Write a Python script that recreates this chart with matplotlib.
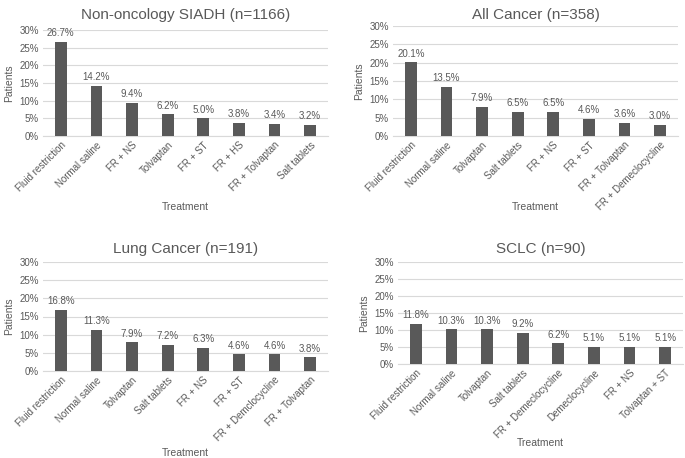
import matplotlib.pyplot as plt

plt.rcParams['font.family'] = ['Liberation Sans', 'DejaVu Sans']

TEXT = "#595959"
BAR = "#595959"
GRID = "#d9d9d9"

titles = ["Non-oncology SIADH (n=1166)", "All Cancer (n=358)",
          "Lung Cancer (n=191)", "SCLC (n=90)"]

cats_siadh = ["Fluid restriction", "Normal saline", "FR + NS", "Tolvaptan",
              "FR + ST", "FR + HS", "FR + Tolvaptan", "Salt tablets"]
vals_siadh = [26.7, 14.2, 9.4, 6.2, 5.0, 3.8, 3.4, 3.2]

cats_all = ["Fluid restriction", "Normal saline", "Tolvaptan", "Salt tablets",
            "FR + NS", "FR + ST", "FR + Tolvaptan", "FR + Demeclocycline"]
vals_all = [20.1, 13.5, 7.9, 6.5, 6.5, 4.6, 3.6, 3.0]

cats_lung = ["Fluid restriction", "Normal saline", "Tolvaptan", "Salt tablets",
             "FR + NS", "FR + ST", "FR + Demclocycline", "FR + Tolvaptan"]
vals_lung = [16.8, 11.3, 7.9, 7.2, 6.3, 4.6, 4.6, 3.8]

cats_sclc = ["Fluid restriction", "Normal saline", "Tolvaptan", "Salt tablets",
             "FR + Demeclocycline", "Demeclocycline", "FR + NS", "Tolvaptan + ST"]
vals_sclc = [11.8, 10.3, 10.3, 9.2, 6.2, 5.1, 5.1, 5.1]

W, H = 685, 458
# pixel boxes: left, right, top(30%), bottom(0%), xlabel y
boxes = [
    (43, 328, 30, 136, 207),
    (393, 678, 26, 136, 207),
    (43, 328, 262, 371, 453),
    (398, 683, 262, 364, 443),
]
title_y = [8, 8, 242, 242]
data = [(cats_siadh, vals_siadh), (cats_all, vals_all),
        (cats_lung, vals_lung), (cats_sclc, vals_sclc)]

fig = plt.figure(figsize=(W / 100, H / 100), dpi=100)

for (l, r, t, b, xl), ty, title, (cats, vals) in zip(boxes, title_y, titles, data):
    ax = fig.add_axes([l / W, 1 - b / H, (r - l) / W, (b - t) / H])
    x = range(len(cats))
    ax.bar(x, vals, width=0.33, color=BAR, zorder=3)
    for xi, v in zip(x, vals):
        ax.text(xi, v + 1.0, f"{v:.1f}%", ha="center", va="bottom",
                fontsize=7, color=TEXT)
    ax.set_xlim(-0.5, len(cats) - 0.5)
    ax.set_ylim(0, 30)
    ax.set_yticks(range(0, 31, 5))
    ax.set_yticklabels([f"{v}%" for v in range(0, 31, 5)], fontsize=7, color=TEXT)
    ax.set_xticks(list(x))
    ax.set_xticklabels(cats, rotation=45, ha="right", rotation_mode="anchor",
                       fontsize=7, color=TEXT)
    ax.tick_params(length=0, pad=3)
    ax.grid(True, axis="y", color=GRID, linewidth=0.8, zorder=0)
    for s in ["top", "right", "left"]:
        ax.spines[s].set_visible(False)
    ax.spines["bottom"].set_color(GRID)
    ax.set_ylabel("Patients", fontsize=7.5, color=TEXT, labelpad=4)
    fig.text((l + r) / 2 / W, 1 - ty / H, title, ha="center", va="top",
             fontsize=11, color=TEXT)
    fig.text((l + r) / 2 / W, 1 - xl / H, "Treatment", ha="center", va="center",
             fontsize=7.5, color=TEXT)

fig.savefig("out.png", dpi=100)
